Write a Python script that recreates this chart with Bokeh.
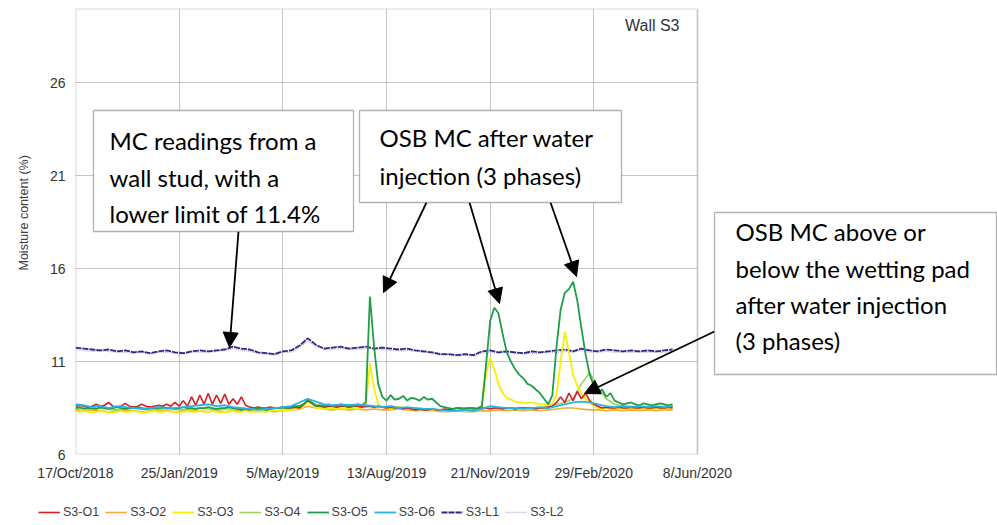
import numpy as np
from bokeh.plotting import figure
from bokeh.layouts import column
from bokeh.models import (Range1d, FixedTicker, Label, Arrow, NormalHead,
                          PolyAnnotation, BoxAnnotation, Legend, LegendItem, Title)
from bokeh.embed import file_html
from bokeh.resources import INLINE

# ---------------- data ----------------
# x = days since 17/Oct/2018
x_tick_days = [0, 100, 200, 300, 400, 500, 600]
x_tick_labels = ["17/Oct/2018", "25/Jan/2019", "5/May/2019", "13/Aug/2019",
                 "21/Nov/2019", "29/Feb/2020", "8/Jun/2020"]
y_ticks = [6, 11, 16, 21, 26]

STEP_A = 8   # sampling (days) of the smoother series
STEP_B = 4   # sampling (days) of the series with spikes

s3_l1 = [11.75, 11.7, 11.65, 11.6, 11.65, 11.55, 11.6, 11.5, 11.55, 11.45,
         11.55, 11.6, 11.5, 11.45, 11.55, 11.6, 11.55, 11.6, 11.65, 11.8,
         11.7, 11.65, 11.5, 11.45, 11.4, 11.55, 11.6, 11.85, 12.25, 11.9,
         11.7, 11.75, 11.8, 11.7, 11.75, 11.8, 11.7, 11.75, 11.7, 11.65,
         11.7, 11.6, 11.55, 11.5, 11.4, 11.4, 11.35, 11.4, 11.35, 11.55,
         11.6, 11.5, 11.55, 11.5, 11.45, 11.55, 11.5, 11.55, 11.6, 11.65,
         11.55, 11.7, 11.6, 11.55, 11.65, 11.6, 11.55, 11.6, 11.55, 11.6,
         11.55, 11.6, 11.65]
s3_l2 = [11.65, 11.6, 11.55, 11.55, 11.55, 11.5, 11.5, 11.45, 11.5, 11.4,
         11.5, 11.5, 11.45, 11.4, 11.5, 11.5, 11.5, 11.55, 11.6, 11.7,
         11.6, 11.55, 11.45, 11.4, 11.35, 11.5, 11.5, 11.75, 12.1, 11.8,
         11.65, 11.65, 11.7, 11.65, 11.65, 11.7, 11.65, 11.65, 11.6, 11.6,
         11.6, 11.55, 11.5, 11.45, 11.35, 11.35, 11.3, 11.35, 11.3, 11.45,
         11.5, 11.45, 11.5, 11.45, 11.4, 11.45, 11.45, 11.5, 11.5, 11.55,
         11.5, 11.6, 11.5, 11.5, 11.55, 11.5, 11.5, 11.5, 11.5, 11.5,
         11.5, 11.5, 11.55]
s3_o2 = [8.4, 8.35, 8.4, 8.35, 8.3, 8.35, 8.4, 8.35, 8.3, 8.35,
         8.4, 8.35, 8.3, 8.35, 8.4, 8.35, 8.3, 8.35, 8.3, 8.35,
         8.4, 8.35, 8.3, 8.35, 8.3, 8.35, 8.4, 8.45, 8.6, 8.5,
         8.45, 8.4, 8.45, 8.4, 8.45, 8.4, 8.45, 8.4, 8.4, 8.45,
         8.4, 8.35, 8.4, 8.35, 8.3, 8.3, 8.35, 8.3, 8.3, 8.35,
         8.35, 8.4, 8.35, 8.4, 8.35, 8.4, 8.35, 8.4, 8.45, 8.5,
         8.5, 8.45, 8.4, 8.4, 8.35, 8.4, 8.35, 8.4, 8.35, 8.4,
         8.35, 8.4, 8.4]
s3_o4 = [8.45, 8.5, 8.45, 8.5, 8.45, 8.4, 8.45, 8.5, 8.45, 8.4,
         8.45, 8.5, 8.45, 8.4, 8.45, 8.5, 8.45, 8.4, 8.45, 8.45,
         8.5, 8.45, 8.4, 8.45, 8.5, 8.45, 8.5, 8.6, 8.85, 8.7,
         8.6, 8.55, 8.6, 8.55, 8.6, 8.55, 8.6, 8.55, 8.6, 8.55,
         8.5, 8.45, 8.4, 8.4, 8.35, 8.4, 8.35, 8.4, 8.35, 8.45,
         8.5, 8.5, 8.45, 8.5, 8.5, 8.5, 8.5, 8.6, 8.7, 8.8,
         9.0, 9.8, 10.4, 9.6, 9.0, 8.7, 8.6, 8.6, 8.55, 8.6,
         8.55, 8.6, 8.6]
s3_o6 = [8.7, 8.65, 8.55, 8.6, 8.5, 8.6, 8.55, 8.5, 8.45, 8.5,
         8.55, 8.45, 8.5, 8.55, 8.6, 8.65, 8.7, 8.6, 8.65, 8.55,
         8.5, 8.45, 8.4, 8.45, 8.5, 8.55, 8.6, 8.8, 9.0, 8.85,
         8.7, 8.65, 8.7, 8.65, 8.7, 8.65, 8.6, 8.55, 8.6, 8.5,
         8.55, 8.5, 8.45, 8.45, 8.4, 8.35, 8.35, 8.4, 8.35, 8.45,
         8.6, 8.55, 8.5, 8.5, 8.45, 8.5, 8.55, 8.5, 8.6, 8.7,
         8.8, 8.85, 8.8, 8.7, 8.6, 8.55, 8.6, 8.55, 8.6, 8.55,
         8.6, 8.55, 8.6]

s3_o1 = [8.6, 8.65, 8.6, 8.55, 8.6, 8.7, 8.6, 8.65, 8.8, 8.6,
         8.55, 8.6, 8.75, 8.6, 8.55, 8.6, 8.7, 8.6, 8.55, 8.6,
         8.65, 8.6, 8.7, 8.6, 8.8,
         8.6, 8.9, 8.6, 9.1, 8.65, 9.2, 8.7, 9.3, 8.7, 9.2,
         8.75, 9.25, 8.7, 9.0, 8.7, 9.1, 8.65,
         8.55, 8.5, 8.55, 8.5, 8.5, 8.55, 8.5, 8.5, 8.55, 8.5,
         8.5, 8.55, 8.5,
         8.7, 8.9, 8.75, 8.6,
         8.6, 8.55, 8.6, 8.6, 8.55, 8.6, 8.6, 8.55, 8.6, 8.6,
         8.55, 8.6, 8.6, 8.55, 8.6, 8.55, 8.5, 8.55, 8.5, 8.5,
         8.45, 8.5, 8.45, 8.4, 8.45, 8.4, 8.4, 8.45, 8.4, 8.4,
         8.45, 8.4, 8.45, 8.5, 8.5, 8.45, 8.5, 8.5, 8.45, 8.5,
         8.5, 8.45, 8.5, 8.5, 8.45, 8.5, 8.5, 8.45, 8.5, 8.5,
         8.5, 8.5, 8.45, 8.5, 8.5, 8.55,
         8.6, 8.8, 9.1, 8.8, 9.3, 8.9, 9.4, 9.0, 9.3, 8.9, 8.7, 8.6,
         8.5, 8.55, 8.5, 8.5, 8.55, 8.5, 8.5, 8.55, 8.5, 8.5,
         8.55, 8.5, 8.5, 8.55, 8.5, 8.5, 8.55, 8.5]
s3_o3 = [8.35, 8.3, 8.35, 8.3, 8.25, 8.3, 8.35, 8.3, 8.3, 8.25,
         8.3, 8.35, 8.3, 8.3, 8.35, 8.3, 8.25, 8.3, 8.3, 8.35,
         8.3, 8.3, 8.35, 8.3, 8.3, 8.25, 8.3, 8.35, 8.3, 8.3,
         8.35, 8.3, 8.3, 8.35, 8.3, 8.25, 8.3, 8.3, 8.35, 8.3,
         8.3, 8.35, 8.3, 8.3, 8.35, 8.3, 8.3, 8.35, 8.4, 8.35,
         8.4, 8.35, 8.4, 8.45, 8.45,
         8.6, 8.85, 8.7, 8.5,
         8.5, 8.45, 8.5, 8.5, 8.45, 8.5, 8.45, 8.5, 8.5, 8.45, 8.5,
         8.6, 10.9, 9.6, 8.7,
         8.55, 8.5, 8.45, 8.5, 8.5, 8.45, 8.5, 8.45, 8.5, 8.5,
         8.45, 8.4, 8.4, 8.35, 8.4, 8.35, 8.35, 8.4, 8.35, 8.4,
         8.35, 8.4, 8.45, 8.45,
         8.5, 10.3, 11.2, 10.6, 9.8, 9.3, 9.05, 8.95,
         8.85, 8.8, 8.8, 8.75, 8.8, 8.75, 8.7, 8.7, 8.7,
         8.75, 9.2, 11.0, 12.6, 11.5, 10.3, 9.7, 9.3, 9.0, 8.8, 8.6,
         8.5, 8.45, 8.5, 8.5, 8.45, 8.5, 8.5, 8.45, 8.5, 8.5,
         8.45, 8.5, 8.5, 8.45, 8.5, 8.5, 8.45, 8.5, 8.5]
s3_o5 = [8.5, 8.55, 8.45, 8.5, 8.5, 8.45, 8.55, 8.5, 8.45, 8.5,
         8.55, 8.5, 8.45, 8.5, 8.5, 8.55, 8.5, 8.45, 8.5, 8.5,
         8.5, 8.55, 8.5, 8.5, 8.45, 8.5, 8.55, 8.5, 8.5, 8.45,
         8.5, 8.5, 8.55, 8.5, 8.45, 8.5, 8.5, 8.55, 8.5, 8.45,
         8.4, 8.45, 8.4, 8.45, 8.5, 8.45, 8.4, 8.45, 8.5, 8.5,
         8.55, 8.5, 8.55, 8.6, 8.6,
         8.7, 8.95, 8.8, 8.6,
         8.65, 8.6, 8.7, 8.6, 8.65, 8.7, 8.6, 8.65, 8.6, 8.7, 8.65,
         8.8, 14.5, 11.8, 9.8,
         9.1, 8.9, 9.2, 8.95, 9.0, 9.15, 8.9, 9.05, 9.0, 8.9, 9.1, 8.95, 9.0,
         8.8, 8.6, 8.55, 8.5, 8.45, 8.5, 8.45, 8.5, 8.5, 8.45, 8.5,
         8.6, 10.8, 13.2, 13.9, 13.6, 12.5, 11.5, 11.0, 10.6, 10.3,
         10.1, 9.8, 9.7, 9.5, 9.3, 9.0, 8.7, 9.2, 11.8, 13.8,
         14.7, 14.9, 15.3, 14.3, 12.8, 11.4, 10.3, 9.7, 9.3, 9.5,
         9.1, 9.3, 8.9,
         8.8, 8.7, 8.75, 8.8, 8.7, 8.65, 8.75, 8.7, 8.65, 8.7,
         8.75, 8.7, 8.65, 8.7]

series = [
    ("S3-O1", s3_o1, STEP_B, "#D41F26", "solid", 1.6),
    ("S3-O2", s3_o2, STEP_A, "#F0AC3C", "solid", 1.6),
    ("S3-O3", s3_o3, STEP_B, "#F6F000", "solid", 1.8),
    ("S3-O4", s3_o4, STEP_A, "#9BD25A", "solid", 1.6),
    ("S3-O5", s3_o5, STEP_B, "#1F9E48", "solid", 1.8),
    ("S3-O6", s3_o6, STEP_A, "#27B4E4", "solid", 1.8),
    ("S3-L1", s3_l1, STEP_A, "#2E2785", "6 1", 1.8),
    ("S3-L2", s3_l2, STEP_A, "#B4B4D6", "1 1", 1.4),
]

# ---------------- main figure ----------------
# The frame reaches the right edge of the page so that the right-hand
# call-out box (outside the plotted period) is not clipped.
X0, Y0 = 74, 8
PW, FH = 622, 446          # width of the plotted period, frame height
FW = 997 - X0              # frame width
H_LEG = 31                 # height of the legend strip under the chart
H_MAIN = 525 - H_LEG
XMIN, XMAX, YMIN, YMAX = 0, 600, 6, 30
XEND = XMIN + FW / PW * (XMAX - XMIN)

def dx(px):
    return XMIN + (px - X0) / PW * (XMAX - XMIN)

def dy(py):
    return YMAX - (py - Y0) / FH * (YMAX - YMIN)

p = figure(frame_width=FW, frame_height=FH, min_border_left=X0,
           min_border_right=0, min_border_top=Y0,
           min_border_bottom=H_MAIN - Y0 - FH,
           x_range=Range1d(XMIN, XEND), y_range=Range1d(YMIN, YMAX),
           output_backend="svg", toolbar_location=None)
p.frame_align = False
p.background_fill_color = "white"
p.border_fill_color = "white"
p.outline_line_color = None

tick_font = "Liberation Sans"
p.xaxis.ticker = FixedTicker(ticks=x_tick_days)
p.xaxis.major_label_overrides = {d: l for d, l in zip(x_tick_days, x_tick_labels)}
p.yaxis.ticker = FixedTicker(ticks=y_ticks)
for ax in (p.xaxis, p.yaxis):
    ax.axis_line_color = None
    ax.major_tick_line_color = None
    ax.minor_tick_line_color = None
    ax.major_tick_out = 0
    ax.major_tick_in = 0
    ax.major_label_text_font = tick_font
    ax.major_label_text_font_size = "14px"
    ax.major_label_text_color = "#333333"
p.xaxis.major_label_standoff = 10
p.yaxis.major_label_standoff = 10

p.xgrid.ticker = FixedTicker(ticks=x_tick_days)
p.ygrid.ticker = FixedTicker(ticks=y_ticks)
for g in (p.xgrid, p.ygrid):
    g.grid_line_color = "#8c8c8c"
    g.grid_line_dash = "1 1"
    g.grid_line_width = 1

# blank out the grid to the right of the plotted period
p.add_layout(BoxAnnotation(left=XMAX, fill_color="white", fill_alpha=1.0,
                           line_color=None, level="underlay"))

lookup = {s[0]: s for s in series}
draw_order = ["S3-L2", "S3-L1", "S3-O2", "S3-O4", "S3-O3", "S3-O1", "S3-O5", "S3-O6"]
for name in draw_order:
    _, vals, step, col, dash, lw = lookup[name]
    days = [step * i for i in range(len(vals))]
    p.line(days, vals, line_color=col, line_width=lw, line_dash=dash)

# plot border
p.add_layout(PolyAnnotation(xs=[XMIN, XMAX, XMAX, XMIN], ys=[YMIN, YMIN, YMAX, YMAX],
                            fill_alpha=0, line_color="#808080", line_width=2))

# y axis title, as a left-side title so it can be placed off-centre
ytitle = Title(text="Moisture content (%)", align="left", offset=(Y0 + FH) - 270,
               vertical_align="middle", standoff=30, text_font=tick_font,
               text_font_size="12.5px", text_font_style="normal",
               text_color="#404040")
p.add_layout(ytitle, "left")

# panel title
p.add_layout(Label(x=dx(678), y=dy(25), text="Wall S3", text_align="right",
                   text_baseline="middle", text_font=tick_font,
                   text_font_size="16px", text_color="#333333"))

# ---------------- annotations ----------------
ann_font = "Lato"
ann_size = "24px"
boxes = [
    ((92, 352, 110, 231), 108, [140, 177, 213],
     ["MC readings from a", "wall stud, with a", "lower limit of 11.4%"]),
    ((358, 620, 110, 202), 378, [137, 175],
     ["OSB MC after water", "injection (3 phases)"]),
    ((713, 995, 212, 374), 734, [231, 268, 304, 340],
     ["OSB MC above or", "below the wetting pad", "after water injection", "(3 phases)"]),
]
arrows = [((237, 231), (228, 347)),
          ((425, 202), (382, 292)),
          ((468, 202), (498, 303)),
          ((549, 202), (575, 276)),
          ((713, 331), (583, 393))]

for (a, b), (c, d) in arrows:
    p.add_layout(Arrow(end=NormalHead(size=15, fill_color="black", line_color="black"),
                       x_start=dx(a), y_start=dy(b), x_end=dx(c), y_end=dy(d),
                       line_color="black", line_width=1.8))

for (l, r, t, b), tx, centers, lines in boxes:
    p.add_layout(PolyAnnotation(xs=[dx(l), dx(r), dx(r), dx(l)],
                                ys=[dy(t), dy(t), dy(b), dy(b)],
                                fill_color="white", fill_alpha=1.0,
                                line_color="black", line_width=1.3))
    for cy, txt in zip(centers, lines):
        p.add_layout(Label(x=dx(tx), y=dy(cy), text=txt, text_align="left",
                           text_baseline="middle", text_font=ann_font,
                           text_font_size=ann_size, text_color="black"))

# ---------------- legend strip (pixel coordinates) ----------------
lf = figure(width=997, height=H_LEG, x_range=Range1d(0, 997), y_range=Range1d(0, H_LEG),
            x_axis_type=None, y_axis_type=None, min_border=0,
            output_backend="svg", toolbar_location=None)
lf.frame_align = False
lf.outline_line_color = None
lf.grid.visible = False
lf.background_fill_color = "white"
lf.border_fill_color = "white"
items = []
for name, vals, step, col, dash, lw in series:
    # legend-only renderer: its two points lie outside the strip's ranges
    r = lf.line([-20, -10], [-20, -20], line_color=col, line_width=lw, line_dash=dash)
    items.append(LegendItem(label=name, renderers=[r]))
legend = Legend(items=items, location=(38, 6), orientation="horizontal")
legend.label_text_font = tick_font
legend.label_text_font_size = "12.5px"
legend.label_text_color = "#404040"
legend.glyph_width = 22
legend.glyph_height = 12
legend.label_height = 12
legend.label_standoff = 3
legend.spacing = 6
legend.padding = 0
legend.margin = 0
legend.border_line_color = None
legend.background_fill_alpha = 0
lf.add_layout(legend)

layout = column(p, lf, spacing=0)
open("out.html", "w").write(file_html(layout, INLINE))
